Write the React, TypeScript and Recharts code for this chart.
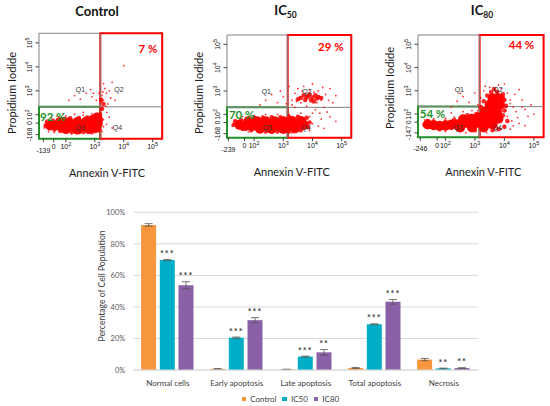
import {
  Bar,
  BarChart,
  CartesianGrid,
  ErrorBar,
  LabelList,
  ReferenceArea,
  ReferenceLine,
  Scatter,
  ScatterChart,
  XAxis,
  YAxis,
} from "recharts";

// ---------- flow cytometry panels ----------
// Axis units are decades of the biexponential display: 2 = 10^2, 3 = 10^3 ...
// Values below 2 are the linear part of the scale (0 and the negative end).

const X_DOMAIN = [1.07, 5.33];
const Y_DOMAIN = [1.0, 5.4];

const Y_TICKS_CONTROL = [1.17, 1.65, 2, 3, 4, 5];
const Y_TICKS_IC50 = [1.17, 1.65, 2, 3, 4, 5];
const Y_TICKS_IC80 = [1.19, 1.65, 2, 3, 4, 5];
const Y_TICK_LABELS_CONTROL = ["-168", "0", "10^2", "10^3", "10^4", "10^5"];
const Y_TICK_LABELS_IC50 = ["-168", "0", "10^2", "10^3", "10^4", "10^5"];
const Y_TICK_LABELS_IC80 = ["-147", "0", "10^2", "10^3", "10^4", "10^5"];

const X_TICKS_CONTROL = [1.22, 1.58, 2, 3, 4, 5];
const X_TICKS_IC50 = [1.12, 1.67, 2, 3, 4, 5];
const X_TICKS_IC80 = [1.15, 1.72, 2, 3, 4, 5];
const X_TICK_LABELS_CONTROL = ["-139", "0", "10^2", "10^3", "10^4", "10^5"];
const X_TICK_LABELS_IC50 = ["-239", "0", "10^2", "10^3", "10^4", "10^5"];
const X_TICK_LABELS_IC80 = ["-246", "0", "10^2", "10^3", "10^4", "10^5"];

// quadrant gate [annexin, PI]
const GATE_CONTROL = [3.19, 2.33];
const GATE_IC50 = [3.15, 2.3];
const GATE_IC80 = [3.16, 2.32];

const LATE_PCT = ["7 %", "29 %", "44 %"];
const LIVE_PCT = ["92 %", "70 %", "54 %"];

// events, split by how crowded that part of the cloud is
const CONTROL_CORE = [
  [1.45, 1.55], [1.65, 1.55], [1.85, 1.5], [2.05, 1.5], [2.25, 1.5], [2.45, 1.5],
  [2.65, 1.5], [2.85, 1.55], [3.0, 1.6], [3.1, 1.7], [1.8, 1.7], [2.1, 1.68],
  [2.4, 1.7], [2.7, 1.72], [2.95, 1.8], [3.08, 1.88], [2.0, 1.4], [2.4, 1.38],
  [2.8, 1.4], [3.05, 1.45],
];
const CONTROL_MID = [
  [1.3, 1.55], [1.35, 1.72], [1.55, 1.75], [1.6, 1.38], [1.8, 1.32], [2.2, 1.28],
  [2.6, 1.28], [2.95, 1.3], [3.15, 1.38], [3.2, 1.58], [3.22, 1.8], [3.18, 2.0],
  [3.0, 1.95], [2.75, 1.88], [2.45, 1.86], [2.15, 1.85], [1.95, 1.83], [3.25, 2.25],
  [3.3, 2.45], [3.22, 2.62],
];
const CONTROL_SPARSE = [
  [1.25, 1.45], [1.3, 1.7], [1.5, 1.88], [1.7, 1.95], [2.0, 1.95], [2.3, 2.02],
  [2.6, 1.98], [2.9, 2.05], [3.2, 2.1], [3.3, 1.8], [3.3, 1.5], [3.25, 1.3],
  [1.6, 1.25], [2.2, 1.2], [2.9, 1.2], [3.2, 2.5], [3.3, 2.6], [3.25, 2.8],
  [3.4, 2.9], [3.35, 3.1], [3.5, 3.0], [3.3, 3.3], [3.45, 2.45], [3.55, 2.7],
  [3.15, 2.9], [3.05, 2.6], [2.9, 2.75], [2.7, 2.9], [2.5, 2.65], [2.3, 2.8],
  [2.1, 2.6], [2.85, 3.05], [3.6, 3.35], [4.0, 4.05], [3.7, 2.6], [3.4, 1.6],
  [3.5, 1.9], [3.6, 1.45], [3.22, 2.2], [3.38, 2.35], [1.4, 1.3], [1.9, 2.05],
  [2.6, 2.1], [3.42, 2.1], [3.28, 2.95], [2.95, 2.9],
];

const IC50_CORE = [
  [1.5, 1.55], [1.7, 1.5], [1.9, 1.5], [2.1, 1.5], [2.3, 1.5], [2.5, 1.5],
  [2.7, 1.5], [2.9, 1.5], [3.1, 1.5], [3.3, 1.5], [3.5, 1.5], [3.7, 1.55],
  [1.8, 1.7], [2.1, 1.7], [2.4, 1.7], [2.7, 1.7], [3.0, 1.7], [3.3, 1.72],
  [3.6, 1.72], [2.2, 1.38], [2.6, 1.37], [3.0, 1.37], [3.4, 1.4],
];
const IC50_MID = [
  [1.3, 1.55], [1.35, 1.7], [1.55, 1.75], [1.6, 1.38], [1.9, 1.32], [2.4, 1.27],
  [2.8, 1.27], [3.2, 1.27], [3.6, 1.32], [3.85, 1.45], [3.9, 1.65], [3.8, 1.85],
  [3.5, 1.9], [3.2, 1.88], [2.9, 1.87], [2.6, 1.87], [2.3, 1.86], [2.0, 1.85],
  [3.6, 2.7], [3.7, 2.82], [3.8, 2.72], [3.9, 2.85], [4.0, 2.72], [4.1, 2.82],
  [4.2, 2.74], [3.75, 2.62], [3.95, 2.6], [4.05, 2.55], [3.5, 2.65], [4.3, 2.7],
  [3.85, 2.78], [4.15, 2.68],
];
const IC50_SPARSE = [
  [1.25, 1.5], [1.35, 1.75], [1.6, 1.9], [2.0, 1.95], [2.4, 2.0], [2.8, 2.0],
  [3.2, 2.0], [3.6, 2.05], [3.9, 1.9], [4.0, 1.6], [4.2, 1.5], [4.3, 1.8],
  [3.9, 1.3], [1.8, 1.25], [2.6, 1.2], [3.3, 1.2], [4.1, 2.2], [4.4, 2.3],
  [3.8, 2.35], [3.4, 2.3], [3.3, 2.6], [3.4, 2.9], [3.5, 3.1], [3.6, 2.5],
  [3.7, 3.2], [3.9, 3.05], [4.0, 3.3], [4.2, 3.0], [4.3, 2.6], [4.45, 2.85],
  [4.6, 3.1], [4.7, 2.5], [4.8, 2.8], [3.55, 2.75], [4.15, 2.5], [3.2, 3.2],
  [2.4, 2.6], [2.6, 2.85], [2.8, 2.5], [3.0, 2.75], [2.9, 3.0], [2.2, 2.4],
  [3.1, 2.45], [4.4, 1.4], [4.6, 1.9], [4.5, 2.1], [4.8, 1.7], [3.45, 2.55],
  [4.05, 2.95], [3.75, 2.9], [4.0, 2.05], [4.25, 2.05], [3.3, 2.4], [3.65, 3.0],
  [4.35, 3.15], [4.55, 2.6],
];

const IC80_CORE = [
  [1.4, 1.55], [1.6, 1.52], [1.8, 1.5], [2.0, 1.5], [2.2, 1.55], [2.4, 1.55],
  [2.6, 1.6], [2.8, 1.6], [3.0, 1.6], [3.2, 1.6], [3.4, 1.6], [3.6, 1.55],
  [2.5, 1.42], [2.9, 1.42], [3.3, 1.42], [2.6, 1.78], [2.9, 1.8], [3.15, 1.85],
  [3.4, 1.85], [3.6, 1.9], [3.8, 1.8], [3.35, 2.1], [3.55, 2.15], [3.75, 2.1],
  [3.5, 2.4], [3.68, 2.45], [3.85, 2.4], [3.6, 2.68], [3.8, 2.68],
];
const IC80_MID = [
  [3.2, 2.3], [3.3, 2.55], [3.42, 2.8], [3.55, 2.95], [3.75, 2.95], [3.95, 2.85],
  [4.0, 2.6], [4.05, 2.35], [4.0, 2.15], [3.95, 1.95], [4.1, 1.7], [4.0, 1.45],
  [3.8, 1.35], [1.3, 1.55], [1.4, 1.7], [1.6, 1.68], [2.0, 1.68], [2.3, 1.75],
  [2.2, 1.4], [1.8, 1.35], [3.0, 1.3], [3.6, 1.3], [3.05, 2.0], [2.75, 1.95],
  [3.65, 3.08], [3.95, 2.7],
];
const IC80_SPARSE = [
  [1.25, 1.5], [1.3, 1.75], [1.6, 1.8], [2.0, 1.82], [2.3, 1.88], [2.2, 2.05],
  [2.6, 2.1], [2.9, 2.15], [3.1, 2.4], [3.2, 2.7], [3.3, 3.0], [3.5, 3.15],
  [3.9, 3.1], [4.1, 2.9], [4.2, 2.6], [4.3, 2.3], [4.4, 2.1], [4.6, 2.6],
  [4.7, 2.2], [4.8, 1.9], [4.9, 2.4], [4.5, 1.6], [4.2, 1.35], [4.0, 1.5],
  [4.1, 1.9], [3.9, 1.35], [2.0, 1.25], [2.7, 1.2], [3.4, 1.2], [2.8, 2.5],
  [2.6, 2.75], [2.5, 2.9], [3.0, 2.9], [4.35, 2.85], [4.0, 3.3], [4.5, 3.05],
  [5.0, 2.0], [1.9, 2.1], [2.4, 2.55], [2.2, 2.3], [4.25, 1.7], [4.6, 2.3],
  [4.05, 2.15], [3.1, 2.15], [4.3, 1.5], [4.7, 1.5], [4.45, 1.85], [4.2, 2.45],
  [3.8, 3.25], [3.35, 3.2],
];

// ---------- bar chart ----------
const CATEGORIES = ["Normal cells", "Early apoptosis", "Late apoptosis", "Total apoptosis", "Necrosis"];
const CONTROL = [92, 0.7, 0.4, 1.3, 6.6];
const IC50 = [69.7, 20.5, 8.5, 29.0, 1.0];
const IC80 = [53.8, 31.6, 11.2, 43.2, 1.2];
const CONTROL_ERR = [0.8, 0.2, 0.1, 0.3, 0.7];
const IC50_ERR = [0.4, 0.4, 0.3, 0.3, 0.2];
const IC80_ERR = [2.2, 1.6, 1.8, 1.5, 0.3];
const IC50_SIG = ["***", "***", "***", "***", "**"];
const IC80_SIG = ["***", "***", "**", "***", "**"];
const PCT_TICKS = [0, 20, 40, 60, 80, 100];

const ORANGE = "#f7963c";
const TEAL = "#00afc7";
const PURPLE = "#8a60a6";
const RED = "#ff0000";
const GREEN = "#22922a";

const BAR_PLOT_H = 157.7;

const toPoints = (list: number[][]) => list.map(([x, y]) => ({ x, y }));

function tickText(label: string) {
  const [base, exp] = label.split("^");
  if (!exp) return base;
  return [
    <tspan key="b">{base}</tspan>,
    <tspan key="e" dy={-3} fontSize={5.5}>
      {exp}
    </tspan>,
  ];
}

function lookup(ticks: number[], labels: string[], v: number) {
  let best = 0;
  ticks.forEach((t, i) => {
    if (Math.abs(t - v) < Math.abs(ticks[best] - v)) best = i;
  });
  return labels[best];
}

const CoreDot = (p: any) => <circle cx={p.cx} cy={p.cy} r={5} fill={RED} />;
const MidDot = (p: any) => <circle cx={p.cx} cy={p.cy} r={2.3} fill={RED} fillOpacity={0.85} />;
const SparseDot = (p: any) => <circle cx={p.cx} cy={p.cy} r={0.9} fill={RED} fillOpacity={0.8} />;

type PanelProps = {
  left: number;
  top: number;
  width: number;
  height: number;
  xTicks: number[];
  xLabels: string[];
  yTicks: number[];
  yLabels: string[];
  gate: number[];
  core: number[][];
  mid: number[][];
  sparse: number[][];
};

const AXIS_W = 12;

function FlowPanel({ left, top, width, height, xTicks, xLabels, yTicks, yLabels, gate, core, mid, sparse }: PanelProps) {
  const chartH = 180;
  return (
    <div style={{ position: "absolute", left: left - 40, top: 0 }}>
      <ScatterChart
        width={width + 50}
        height={chartH}
        margin={{ top, right: 10, bottom: chartH - top - height - AXIS_W, left: 40 - AXIS_W }}
      >
        <XAxis
          type="number"
          dataKey="x"
          domain={X_DOMAIN}
          ticks={xTicks}
          allowDataOverflow
          height={AXIS_W}
          axisLine={false}
          tickSize={3.5}
          tickMargin={0}
          tickLine={{ stroke: "#444" }}
          interval={0}
          tick={(p: any) => {
            const label = lookup(xTicks, xLabels, p.payload.value);
            const low = label.startsWith("-");
            return (
              <text x={p.x} y={p.y + (low ? 10.5 : 7)} textAnchor="middle" fontSize={7} fill="#111" fontFamily="Liberation Sans, Arial">
                {tickText(label)}
              </text>
            );
          }}
        />
        <YAxis
          type="number"
          dataKey="y"
          domain={Y_DOMAIN}
          ticks={yTicks}
          allowDataOverflow
          width={AXIS_W}
          axisLine={false}
          tickSize={3.5}
          tickMargin={3}
          tickLine={{ stroke: "#444" }}
          interval={0}
          tick={(p: any) => (
            <text
              transform={`rotate(-90 ${p.x} ${p.y})`}
              x={p.x}
              y={p.y}
              textAnchor="middle"
              fontSize={7}
              fill="#111"
              fontFamily="Liberation Sans, Arial"
            >
              {tickText(lookup(yTicks, yLabels, p.payload.value))}
            </text>
          )}
        />
        <ReferenceArea x1={X_DOMAIN[0]} x2={X_DOMAIN[1]} y1={Y_DOMAIN[0]} y2={Y_DOMAIN[1]} fill="none" stroke="#808080" strokeWidth={1} />
        <ReferenceLine x={gate[0]} stroke="#808080" />
        <ReferenceLine y={gate[1]} stroke="#808080" />
        <Scatter data={toPoints(sparse)} shape={SparseDot} isAnimationActive={false} />
        <Scatter data={toPoints(mid)} shape={MidDot} isAnimationActive={false} />
        <Scatter data={toPoints(core)} shape={CoreDot} isAnimationActive={false} />
        <ReferenceArea x1={X_DOMAIN[0]} x2={gate[0]} y1={Y_DOMAIN[0]} y2={gate[1]} fill="none" stroke={GREEN} strokeWidth={2} />
        <ReferenceArea x1={gate[0]} x2={X_DOMAIN[1]} y1={Y_DOMAIN[0]} y2={Y_DOMAIN[1]} fill="none" stroke={RED} strokeWidth={2} />
      </ScatterChart>
    </div>
  );
}

function Txt({ x, y, children, style }: { x: number; y: number; children: any; style?: any }) {
  return (
    <div
      style={{
        position: "absolute",
        left: x,
        top: y,
        transform: "translate(-50%, -50%)",
        whiteSpace: "nowrap",
        lineHeight: 1,
        ...style,
      }}
    >
      {children}
    </div>
  );
}

const TITLE = { fontFamily: "Lato", fontWeight: 700, fontSize: 13, color: "#111" };
const AXIS_TITLE = { fontFamily: "Lato", fontSize: 11, color: "#1a1a1a" };
const PCT = { fontFamily: "Lato", fontWeight: 700, fontSize: 11.5 };
const QLAB = { fontFamily: "Liberation Sans, Arial", fontSize: 7, color: "#333" };

function makeStarLabel(errs: number[]) {
  return (props: any) => {
    const vb = props.viewBox ?? props;
    const i = props.index ?? 0;
    const cx = vb.x + vb.width / 2;
    const top = vb.y - (errs[i] ?? 0) * (BAR_PLOT_H / 100);
    return (
      <text x={cx} y={top - 2.5} textAnchor="middle" fontSize={9} fontWeight={700} letterSpacing={1} fill="#404040" fontFamily="Lato">
        {props.value}
      </text>
    );
  };
}

function LegendItem({ color, label }: { color: string; label: string }) {
  return (
    <span style={{ display: "inline-flex", alignItems: "center", marginRight: 6 }}>
      <span style={{ width: 4.5, height: 4.5, background: color, marginRight: 4, display: "inline-block" }} />
      {label}
    </span>
  );
}

export default function App() {
  const rows = CATEGORIES.map((name, i) => ({
    name,
    control: CONTROL[i],
    ic50: IC50[i],
    ic80: IC80[i],
    controlErr: CONTROL_ERR[i],
    ic50Err: IC50_ERR[i],
    ic80Err: IC80_ERR[i],
    ic50Sig: IC50_SIG[i],
    ic80Sig: IC80_SIG[i],
  }));

  return (
    <div style={{ position: "absolute", left: 0, top: 0, width: 550, height: 406, background: "#fff", overflow: "hidden" }}>
      <FlowPanel left={39.3} top={33.3} width={123.2} height={105.4} xTicks={X_TICKS_CONTROL} xLabels={X_TICK_LABELS_CONTROL} yTicks={Y_TICKS_CONTROL} yLabels={Y_TICK_LABELS_CONTROL} gate={GATE_CONTROL} core={CONTROL_CORE} mid={CONTROL_MID} sparse={CONTROL_SPARSE} />
      <FlowPanel left={226.7} top={35} width={124.3} height={102.7} xTicks={X_TICKS_IC50} xLabels={X_TICK_LABELS_IC50} yTicks={Y_TICKS_IC50} yLabels={Y_TICK_LABELS_IC50} gate={GATE_IC50} core={IC50_CORE} mid={IC50_MID} sparse={IC50_SPARSE} />
      <FlowPanel left={417.7} top={35} width={125.6} height={102.3} xTicks={X_TICKS_IC80} xLabels={X_TICK_LABELS_IC80} yTicks={Y_TICKS_IC80} yLabels={Y_TICK_LABELS_IC80} gate={GATE_IC80} core={IC80_CORE} mid={IC80_MID} sparse={IC80_SPARSE} />

      {/* panel titles */}
      <Txt x={97} y={11} style={TITLE}>Control</Txt>
      <Txt x={285.5} y={12} style={TITLE}>
        IC<sub style={{ fontSize: 8.5, verticalAlign: "-3px" }}>50</sub>
      </Txt>
      <Txt x={482} y={12} style={TITLE}>
        IC<sub style={{ fontSize: 8.5, verticalAlign: "-3px" }}>80</sub>
      </Txt>

      {/* axis titles */}
      {[[11, 93], [198.3, 92.5], [389.3, 88]].map(([x, y]) => (
        <Txt key={`pi${x}`} x={x} y={y} style={{ ...AXIS_TITLE, transform: "translate(-50%, -50%) rotate(-90deg)" }}>
          Propidium Iodide
        </Txt>
      ))}
      {[[107, 172], [291.7, 170.7], [483.3, 170.7]].map(([x, y]) => (
        <Txt key={`ax${x}`} x={x} y={y} style={AXIS_TITLE}>
          Annexin V-FITC
        </Txt>
      ))}

      {/* gate percentages */}
      <Txt x={148} y={49} style={{ ...PCT, color: RED }}>{LATE_PCT[0]}</Txt>
      <Txt x={330.8} y={47.2} style={{ ...PCT, color: RED }}>{LATE_PCT[1]}</Txt>
      <Txt x={521.5} y={45} style={{ ...PCT, color: RED }}>{LATE_PCT[2]}</Txt>
      <Txt x={52.8} y={116.7} style={{ ...PCT, color: GREEN }}>{LIVE_PCT[0]}</Txt>
      <Txt x={241.7} y={115} style={{ ...PCT, color: GREEN }}>{LIVE_PCT[1]}</Txt>
      <Txt x={432.5} y={114.2} style={{ ...PCT, color: GREEN }}>{LIVE_PCT[2]}</Txt>

      {/* quadrant names */}
      {[
        [80.5, 89.3, "Q1"], [119, 89.3, "Q2"], [80.5, 127, "Q3"], [117.5, 127, "Q4"],
        [266.3, 90.7, "Q1"], [307, 90.7, "Q2"], [267.5, 127, "Q3"], [306, 127, "Q4"],
        [459.3, 89.3, "Q1"], [498, 89.3, "Q2"], [458.2, 127, "Q3"], [497.2, 127, "Q4"],
      ].map(([x, y, q]) => (
        <Txt key={`${x}${q}`} x={x as number} y={y as number} style={QLAB}>
          {q}
        </Txt>
      ))}

      {/* bar chart */}
      <div style={{ position: "absolute", left: 80, top: 190 }}>
        <BarChart
          width={420}
          height={216}
          data={rows}
          margin={{ top: 22.3, right: 21.7, bottom: 16, left: 8.3 }}
          barCategoryGap={7.8}
          barGap={3.7}
        >
          <CartesianGrid vertical={false} stroke="#d9d9d9" />
          <XAxis
            dataKey="name"
            height={20}
            axisLine={{ stroke: "#d9d9d9" }}
            tickLine={false}
            tickMargin={4}
            tick={{ fontSize: 8, fill: "#404040", fontFamily: "Lato" }}
            interval={0}
          />
          <YAxis
            domain={[0, 100]}
            ticks={PCT_TICKS}
            width={45}
            axisLine={false}
            tickLine={false}
            tickFormatter={(v) => `${v}%`}
            tick={{ fontSize: 7.5, fill: "#595959", fontFamily: "Lato" }}
          />
          <Bar dataKey="control" fill={ORANGE} isAnimationActive={false}>
            <ErrorBar dataKey="controlErr" width={4} stroke="#555" strokeWidth={0.8} />
          </Bar>
          <Bar dataKey="ic50" fill={TEAL} isAnimationActive={false}>
            <ErrorBar dataKey="ic50Err" width={4} stroke="#555" strokeWidth={0.8} />
            <LabelList dataKey="ic50Sig" content={makeStarLabel(IC50_ERR)} />
          </Bar>
          <Bar dataKey="ic80" fill={PURPLE} isAnimationActive={false}>
            <ErrorBar dataKey="ic80Err" width={4} stroke="#555" strokeWidth={0.8} />
            <LabelList dataKey="ic80Sig" content={makeStarLabel(IC80_ERR)} />
          </Bar>
        </BarChart>
      </div>

      <Txt x={102} y={286} style={{ fontFamily: "Lato", fontSize: 8.6, color: "#404040", transform: "translate(-50%, -50%) rotate(-90deg)" }}>
        Percentage of Cell Population
      </Txt>

      <div
        style={{
          position: "absolute",
          left: 241.7,
          top: 399,
          transform: "translateY(-50%)",
          display: "flex",
          fontFamily: "Lato",
          fontSize: 8,
          color: "#404040",
          lineHeight: 1,
          whiteSpace: "nowrap",
        }}
      >
        <LegendItem color={ORANGE} label="Control" />
        <LegendItem color={TEAL} label="IC50" />
        <LegendItem color={PURPLE} label="IC80" />
      </div>
    </div>
  );
}
